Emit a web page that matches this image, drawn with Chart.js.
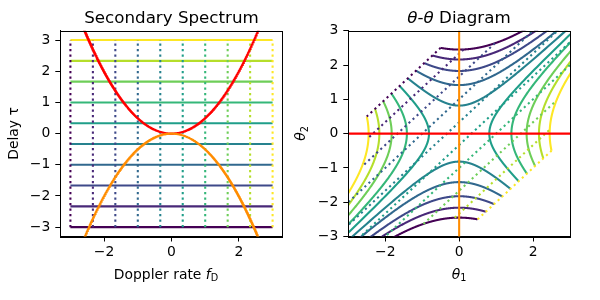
<!DOCTYPE html>
<html>
<head>
<meta charset="utf-8">
<script src="https://cdn.jsdelivr.net/npm/chart.js@4/dist/chart.umd.min.js"></script>
<style>
  body { margin: 0; background: #fff; }
  canvas { position: absolute; top: 0; }
  #left { left: 0; }
  #right { left: 290px; }
</style>
</head>
<body>
<canvas id="left" width="290" height="300"></canvas>
<canvas id="right" width="310" height="300"></canvas>
<script>
// levels: delay (horizontal lines) and Doppler rate (vertical dotted lines)
const tauLevels = [-3, -2.333, -1.667, -1, -0.333, 0.333, 1, 1.667, 2.333, 3];
const fdLevels = [-3, -2.333, -1.667, -1, -0.333, 0.333, 1, 1.667, 2.333, 3];
const levelColors = ["#440154", "#482878", "#3e4989", "#31688e", "#26828e",
                     "#1f9e89", "#35b779", "#6ece58", "#b5de2b", "#fde725"];
const arcCurv = 0.5;   // tau = arcCurv * fd^2 (main arc)
const fdTicks = [-2, 0, 2];
const tauTicks = [-3, -2, -1, 0, 1, 2, 3];
const thetaTicks = [-2, 0, 2];
const theta2Ticks = [-3, -2, -1, 0, 1, 2, 3];

// sampling grid along the Doppler axis
const fdGrid = Array.from({ length: 661 }, (_, i) => -3.3 + i * 0.01);

const FONT = "'DejaVu Sans', 'Liberation Sans', sans-serif";
const LW = 2.08;
const DOT = [2.1, 3.4];

// (fd, tau) -> (theta1, theta2)
function toTheta(fd, tau) {
    const s = 2 * tau / fd;
    return { x: (fd + s) / 2, y: (s - fd) / 2 };
}

function line(data, color, opts) {
    return Object.assign({
        data: data, showLine: true, pointRadius: 0, borderColor: color,
        borderWidth: LW, borderCapStyle: "butt", fill: false
    }, opts || {});
}

function fmt(v) { return v < 0 ? "\u2212" + Math.abs(v) : "" + v; }

function axes(xMin, xMax, yMin, yMax, xT, yT, yWidth) {
    const common = {
        type: "linear",
        grid: { drawOnChartArea: false, drawTicks: true, tickLength: 5, color: "#000", tickWidth: 1 },
        border: { display: true, color: "#000", width: 1 },
    };
    return {
        x: Object.assign({}, common, {
            min: xMin, max: xMax,
            afterBuildTicks: s => { s.ticks = xT.map(v => ({ value: v })); },
            afterFit: s => { s.height = 63.5; },
            ticks: { color: "#000", font: { family: FONT, size: 13.9 }, padding: 3, callback: fmt, maxRotation: 0 }
        }),
        y: Object.assign({}, common, {
            min: yMin, max: yMax,
            afterBuildTicks: s => { s.ticks = yT.map(v => ({ value: v })); },
            afterFit: s => { s.width = yWidth; },
            ticks: { color: "#000", font: { family: FONT, size: 13.9 }, padding: 5, callback: fmt }
        })
    };
}

function drawPieces(ctx, pieces, x, y, rot) {
    ctx.save();
    ctx.translate(x, y);
    if (rot) ctx.rotate(rot);
    let w = 0;
    pieces.forEach(p => { ctx.font = p.font; w += ctx.measureText(p.t).width; });
    let cx = -w / 2;
    ctx.fillStyle = "#000";
    ctx.textBaseline = "alphabetic";
    ctx.textAlign = "left";
    pieces.forEach(p => {
        ctx.font = p.font;
        ctx.fillText(p.t, cx, p.dy || 0);
        cx += ctx.measureText(p.t).width;
    });
    ctx.restore();
}

function labelPlugin(items) {
    return {
        id: "labels",
        afterDraw(chart) {
            const ctx = chart.ctx, a = chart.chartArea;
            ctx.save();
            ctx.strokeStyle = "#000";
            ctx.lineWidth = 1;
            ctx.strokeRect(Math.round(a.left) + 0.5, Math.round(a.top) + 0.5,
                           Math.round(a.right - a.left), Math.round(a.bottom - a.top));
            ctx.restore();
            items.forEach(it => drawPieces(ctx, it.pieces, it.x, it.y, it.rot));
        }
    };
}

const reg = (s) => s + "px " + FONT;
const ita = (s) => "italic " + s + "px " + FONT;

// ---------- left: secondary spectrum ----------
const leftSets = [];
tauLevels.forEach((t, i) => {
    leftSets.push(line([{ x: -3, y: t }, { x: 3, y: t }], levelColors[i], { order: 3 }));
});
fdLevels.forEach((f, i) => {
    leftSets.push(line([{ x: f, y: -3 }, { x: f, y: 3 }], levelColors[i], { order: 2, borderDash: DOT }));
});
leftSets.push(line(fdGrid.map(f => ({ x: f, y: arcCurv * f * f })), "#ff0000", { order: 1 }));
leftSets.push(line(fdGrid.map(f => ({ x: f, y: -arcCurv * f * f })), "#ff8c00", { order: 0 }));

new Chart(document.getElementById("left"), {
    type: "scatter",
    data: { datasets: leftSets },
    options: {
        responsive: false, animation: false, events: [],
        layout: { padding: { left: 0, right: 7.3, top: 30.7, bottom: 0 } },
        plugins: { legend: { display: false }, tooltip: { enabled: false } },
        scales: axes(-3.3, 3.3, -3.3, 3.3, fdTicks, tauTicks, 60.3)
    },
    plugins: [labelPlugin([
        { pieces: [{ t: "Secondary Spectrum", font: reg(16.7) }], x: 171.5, y: 22.5 },
        { pieces: [{ t: "Doppler rate ", font: reg(13.9) }, { t: "f", font: ita(13.9) },
                   { t: "D", font: reg(9.7), dy: 2.5 }], x: 166, y: 278.5 },
        { pieces: [{ t: "Delay \u03c4", font: reg(13.9) }], x: 17.5, y: 133.5, rot: -Math.PI / 2 }
    ])]
});

// ---------- right: theta-theta diagram ----------
// hyperbolas are parametric (not sorted in x), so avoid the fast path with a tiny tension
const curveOpts = { order: 3, tension: 0.0001, capBezierPoints: false };
const rightSets = [];
tauLevels.forEach((t, i) => {
    const neg = fdGrid.filter(f => f < -0.005 && f >= -3.0001).map(f => toTheta(f, t));
    const pos = fdGrid.filter(f => f > 0.005 && f <= 3.0001).map(f => toTheta(f, t));
    rightSets.push(line(neg, levelColors[i], curveOpts));
    rightSets.push(line(pos, levelColors[i], curveOpts));
});
fdLevels.forEach((f, i) => {
    rightSets.push(line([toTheta(f, -3), toTheta(f, 3)], levelColors[i], { order: 2, borderDash: DOT }));
});
// main arc maps to theta2 = 0, its mirror to theta1 = 0
rightSets.push(line(fdGrid.map(f => toTheta(f, arcCurv * f * f)).filter(p => isFinite(p.x)), "#ff0000", { order: 1 }));
rightSets.push(line([{ x: 0, y: -3.3 }, { x: 0, y: 3.3 }], "#ff8c00", { order: 0 }));

new Chart(document.getElementById("right"), {
    type: "scatter",
    data: { datasets: rightSets },
    options: {
        responsive: false, animation: false, events: [],
        layout: { padding: { left: 0, right: 30, top: 30.7, bottom: 0 } },
        plugins: { legend: { display: false }, tooltip: { enabled: false } },
        scales: axes(-3, 3, -3, 3, thetaTicks, theta2Ticks, 58.3)
    },
    plugins: [labelPlugin([
        { pieces: [{ t: "\u03b8", font: ita(16.7) }, { t: "-", font: reg(16.7) },
                   { t: "\u03b8", font: ita(16.7) }, { t: " Diagram", font: reg(16.7) }], x: 169, y: 22.5 },
        { pieces: [{ t: "\u03b8", font: ita(13.9) }, { t: "1", font: reg(9.7), dy: 2.5 }], x: 169, y: 278.5 },
        { pieces: [{ t: "\u03b8", font: ita(13.9) }, { t: "2", font: reg(9.7), dy: 2.5 }], x: 15, y: 133.5, rot: -Math.PI / 2 }
    ])]
});
</script>
</body>
</html>
